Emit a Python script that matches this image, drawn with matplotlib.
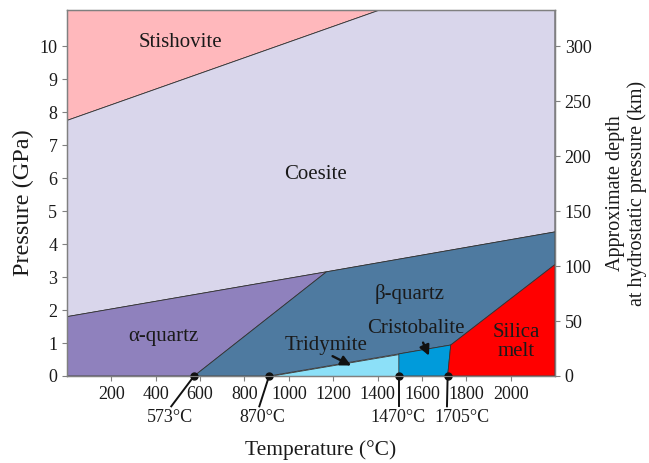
import matplotlib
matplotlib.use("Agg")
import matplotlib.pyplot as plt
import numpy as np

plt.rcParams["font.family"] = ["Liberation Serif", "DejaVu Serif"]

# phase boundaries (temperature in C, pressure in GPa)
stish_T = [0, 1410]
stish_P = [7.75, 11.1]
coes_T = [0, 1170, 2200]
coes_P = [1.8, 3.16, 4.37]
ab_T = [573, 1170]          # alpha / beta quartz
ab_P = [0, 3.16]
trid_T = [911, 1496, 1730]  # top of tridymite + cristobalite
trid_P = [0, 0.67, 0.94]
melt_T = [1716, 1730, 2200]
melt_P = [0, 0.94, 3.38]

p_top = 11.1
t_max = 2200
km_per_gpa = 30

point_T = [573, 911, 1496, 1716]
point_labels = ["573°C", "870°C", "1470°C", "1705°C"]

colors = {
    "stish": "#FFB8BC",
    "coes": "#D9D6EB",
    "alpha": "#8F81BD",
    "beta": "#4E7AA0",
    "trid": "#8CE0F8",
    "crist": "#009BDB",
    "melt": "#FF0000",
}

fig = plt.figure(figsize=(6.49, 4.63), dpi=100)
ax = fig.add_axes([67 / 649, 87 / 463, 488 / 649, 366 / 463])

edge = dict(edgecolor="#333333", linewidth=0.6)

# polygons for each field
polys = {
    "stish": [(stish_T[0], stish_P[0]), (stish_T[1], stish_P[1]), (0, p_top)],
    "coes": [(coes_T[0], coes_P[0]), (coes_T[1], coes_P[1]), (coes_T[2], coes_P[2]),
             (t_max, p_top), (stish_T[1], stish_P[1]), (stish_T[0], stish_P[0])],
    "alpha": [(0, 0), (ab_T[0], ab_P[0]), (ab_T[1], ab_P[1]), (coes_T[0], coes_P[0])],
    "beta": [(ab_T[0], 0), (trid_T[0], trid_P[0]), (trid_T[1], trid_P[1]),
             (trid_T[2], trid_P[2]), (melt_T[2], melt_P[2]), (coes_T[2], coes_P[2]),
             (coes_T[1], coes_P[1])],
    "trid": [(trid_T[0], 0), (trid_T[1], 0), (trid_T[1], trid_P[1])],
    "crist": [(trid_T[1], 0), (melt_T[0], 0), (melt_T[1], melt_P[1]), (trid_T[1], trid_P[1])],
    "melt": [(melt_T[0], 0), (t_max, 0), (melt_T[2], melt_P[2]), (melt_T[1], melt_P[1])],
}
for key, pts in polys.items():
    xs, ys = zip(*pts)
    ax.fill(xs, ys, facecolor=colors[key], **edge)

ax.set_xlim(0, t_max)
ax.set_ylim(0, p_top)
ax.set_xticks(np.arange(200, 2001, 200))
ax.set_yticks(np.arange(0, 11, 1))

for s in ax.spines.values():
    s.set_color("#808080")
    s.set_linewidth(1.0)
ax.tick_params(labelsize=13, length=3.5, color="#808080", labelcolor="#1a1a1a")

ax2 = ax.twinx()
ax2.set_ylim(0, p_top * km_per_gpa)
ax2.set_yticks(np.arange(0, 301, 50))
ax2.tick_params(labelsize=13, length=3.5, color="#808080", labelcolor="#1a1a1a")
for s in ax2.spines.values():
    s.set_color("#808080")

ax.set_ylabel("Pressure (GPa)", fontsize=17.5, color="#1a1a1a")
ax.yaxis.set_label_coords(-0.068, 0.475)
ax2.set_ylabel("Approximate depth\nat hydrostatic pressure (km)", fontsize=14.5,
               color="#1a1a1a", labelpad=10, linespacing=1.15)
ax.set_xlabel("Temperature (°C)", fontsize=15.5, color="#1a1a1a")
ax.xaxis.set_label_coords(0.52, -0.175)

# field labels
lab = dict(fontsize=15, color="#1a1a1a", ha="center", va="center")
ax.text(512, 10.12, "Stishovite", **lab)
ax.text(1119, 6.12, "Coesite", **lab)
ax.text(434, 1.21, "α-quartz", **lab)
ax.text(1544, 2.5, "β-quartz", **lab)
ax.text(1168, 0.94, "Tridymite", **lab)
ax.text(1571, 1.44, "Cristobalite", **lab)
ax.text(2027, 1.04, "Silica\nmelt", linespacing=1.0, **lab)

arrow = dict(arrowstyle="-|>", color="#111111", lw=1.7, mutation_scale=15)
ax.annotate("", xy=(1292, 0.28), xytext=(1186, 0.64), arrowprops=arrow)
ax.annotate("", xy=(1637, 0.54), xytext=(1600, 1.09), arrowprops=arrow)

# transition points with leader lines
line_end_T = [470, 867, 1496, 1713]
label_T = [466, 880, 1493, 1781]
for t, lt, tx, txt in zip(point_T, line_end_T, label_T, point_labels):
    ax.plot([t, lt], [0, -0.92], color="#111111", lw=1.4, clip_on=False, zorder=5)
    ax.plot([t], [0], "o", color="#111111", ms=5, clip_on=False, zorder=6)
    ax.text(tx, -1.27, txt, fontsize=13, ha="center", va="center", color="#1a1a1a")

fig.savefig("out.png", dpi=100)
